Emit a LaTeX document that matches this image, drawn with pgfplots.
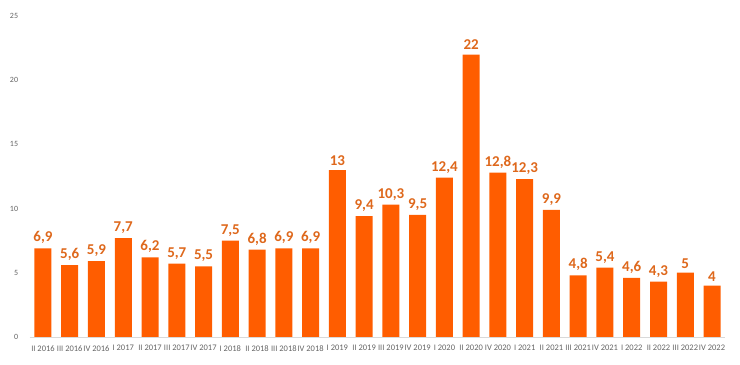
\documentclass[border=0pt]{standalone}
\usepackage{fontspec}
\setmainfont{Carlito}
\usepackage{pgfplots}
\pgfplotsset{compat=1.18}
\definecolor{barc}{RGB}{255,93,0}
\definecolor{labc}{RGB}{222,104,28}
\definecolor{tickc}{RGB}{100,100,100}
\begin{document}
\begin{tikzpicture}
\begin{axis}[
  scale only axis,
  width=696pt, height=321pt,
  xmin=-0.5, xmax=25.5,
  ymin=0, ymax=25,
  ytick={0,5,10,15,20,25},
  xtick={0,...,25},
  xticklabels={II 2016,III 2016,IV 2016,I 2017,II 2017,III 2017,IV 2017,I 2018,II 2018,III 2018,IV 2018,I 2019,II 2019,III 2019,IV 2019,I 2020,II 2020,IV 2020,I 2021,II 2021,III 2021,IV 2021,I 2022,II 2022,III 2022,IV 2022},
  axis y line*=left,
  axis x line*=bottom,
  y axis line style={draw=none},
  x axis line style={draw=black!15, -},
  major tick length=0pt,
  xticklabel style={font=\fontsize{8.5}{9}\selectfont, text=tickc, yshift=-5pt},
  yticklabel style={font=\fontsize{8}{9}\selectfont, text=tickc, xshift=-8pt},
  /pgf/number format/assume math mode=true,
  ybar, bar width=17pt,
  nodes near coords,
  nodes near coords style={font=\bfseries\fontsize{15}{17}\selectfont, text=labc, /pgf/number format/use comma, /pgf/number format/fixed, yshift=1pt},
  clip=false,
]
\addplot[fill=barc, draw=none] coordinates {
(0,6.9) (1,5.6) (2,5.9) (3,7.7) (4,6.2) (5,5.7) (6,5.5) (7,7.5) (8,6.8) (9,6.9) (10,6.9) (11,13) (12,9.4) (13,10.3) (14,9.5) (15,12.4) (16,22) (17,12.8) (18,12.3) (19,9.9) (20,4.8) (21,5.4) (22,4.6) (23,4.3) (24,5) (25,4)
};
\end{axis}
\path (current axis.south west) ++(-29.6pt,-28pt) (current axis.north east) ++(14.6pt,16pt);
\end{tikzpicture}
\end{document}
